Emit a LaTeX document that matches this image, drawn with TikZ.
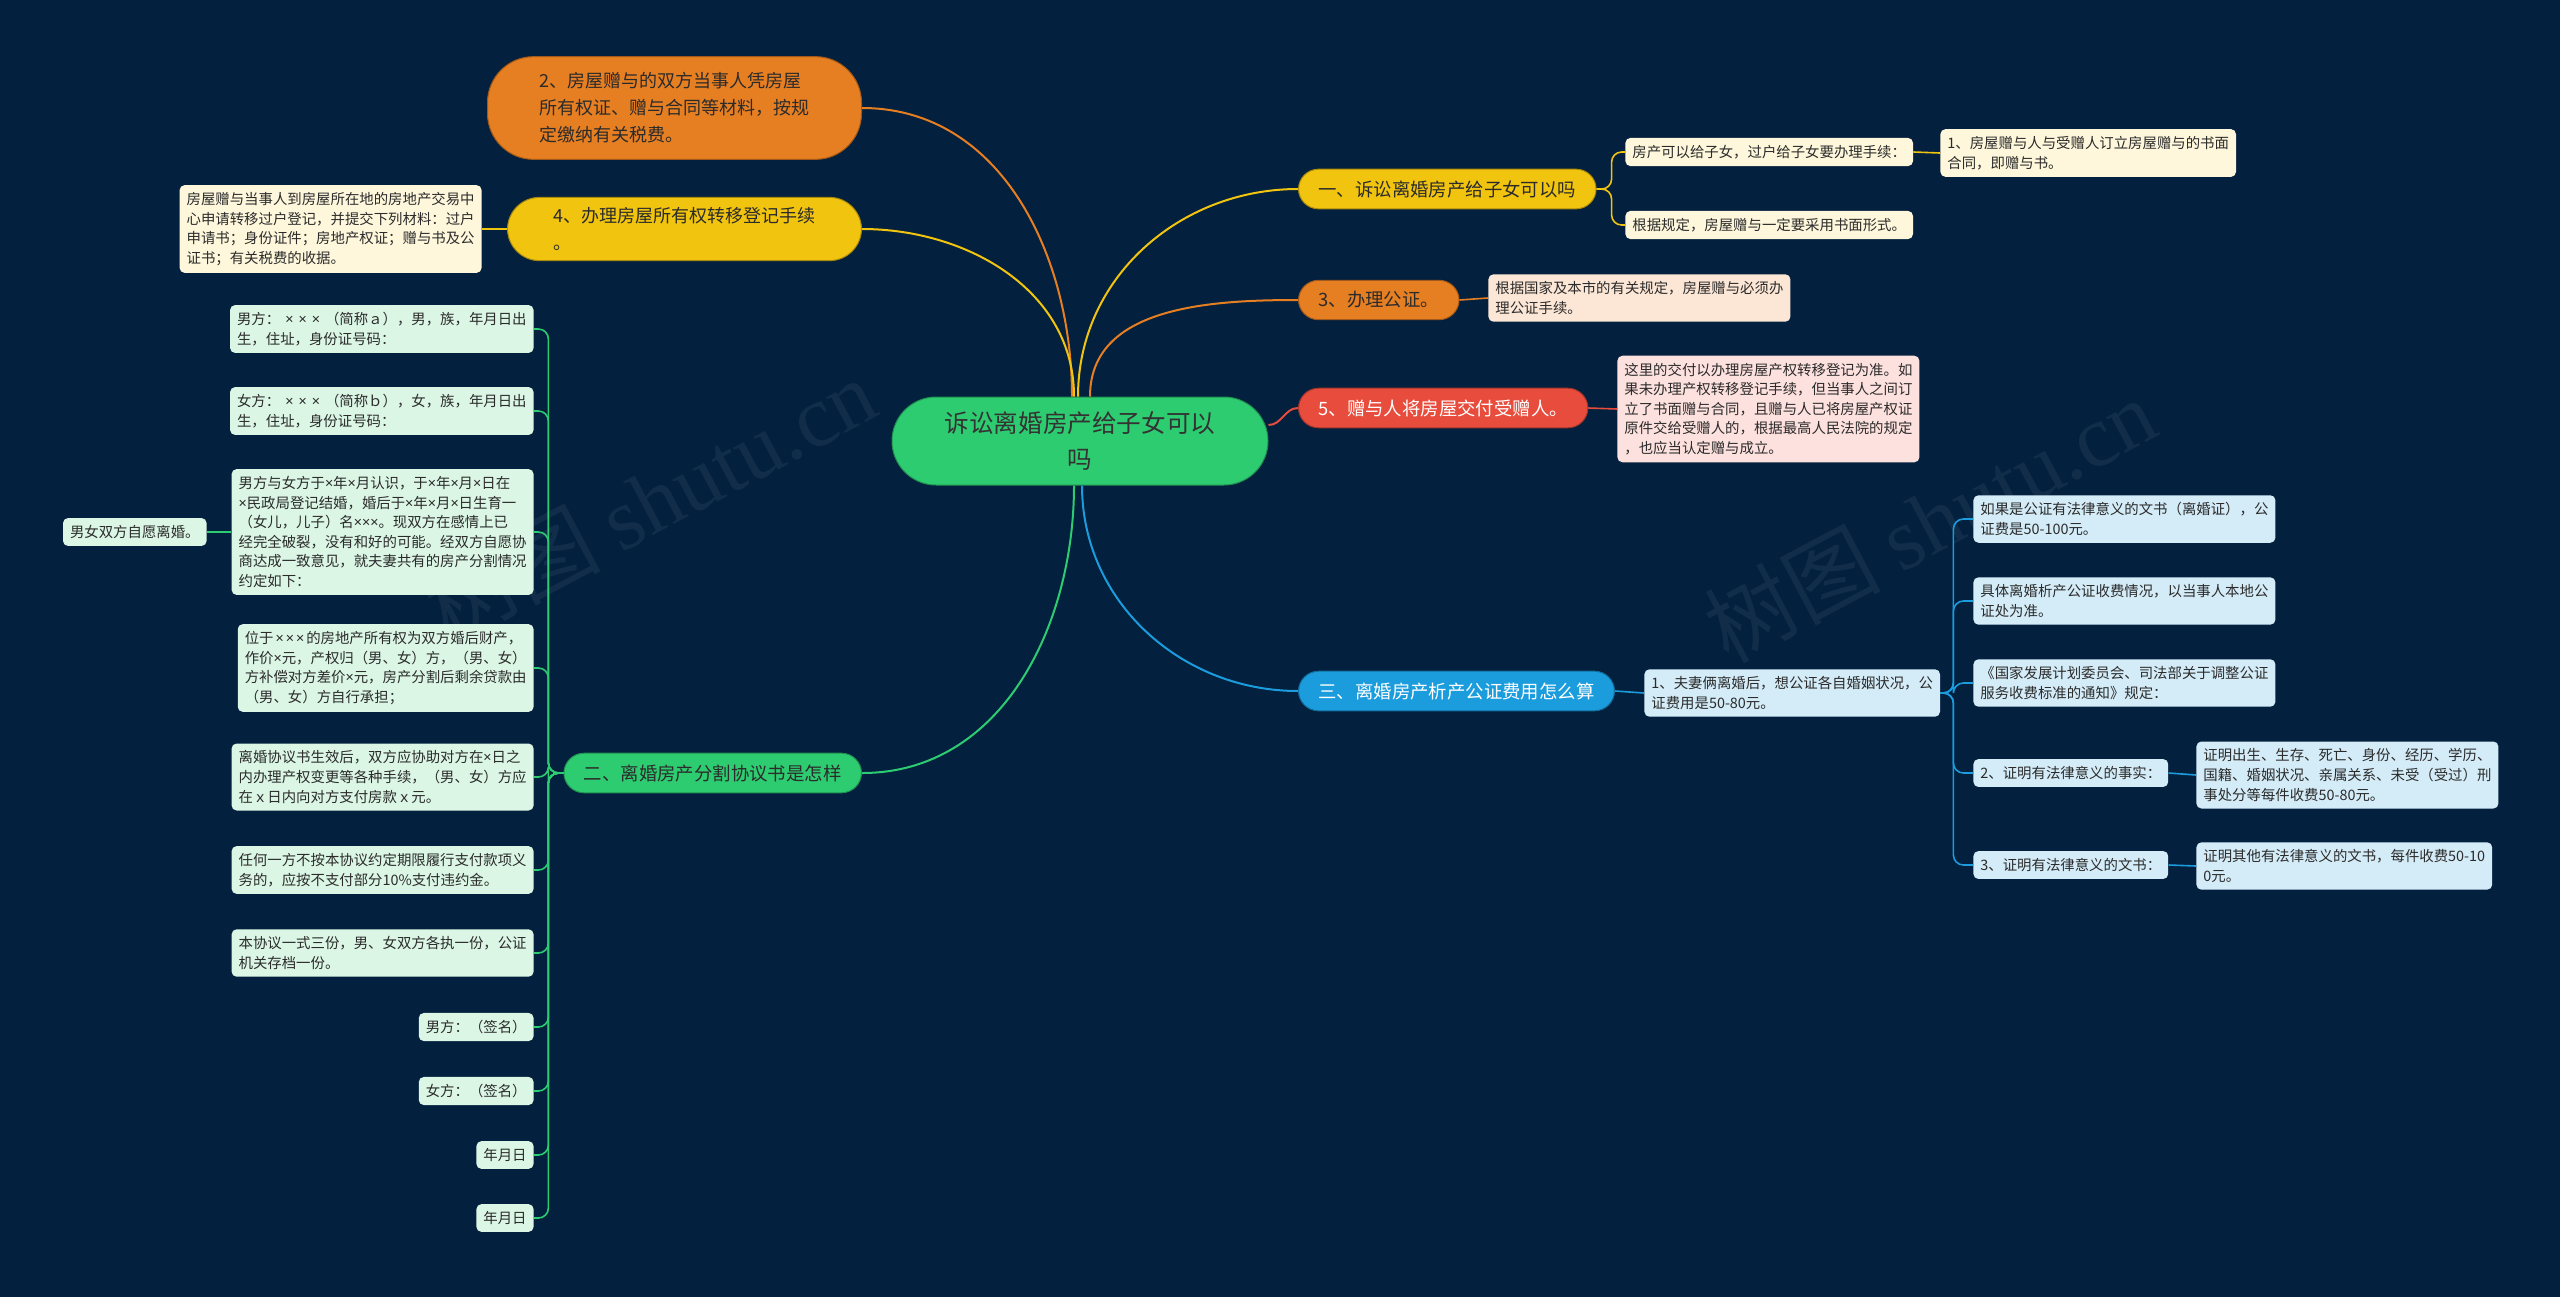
\documentclass[tikz,border=0pt]{standalone}
\usepackage{fontspec}
\setmainfont{Noto Sans CJK SC}
\newfontfamily\lsans{Noto Sans}
\newfontfamily\lserif{Liberation Serif}
\newcommand{\xx}{{\lsans ×}}
\newcommand{\xxx}[1]{\hspace{#1}\xx\hspace{#1}\xx\hspace{#1}\xx\hspace{#1}}
\usetikzlibrary{positioning}

\definecolor{bg}{HTML}{03203E}
\definecolor{cgreen}{HTML}{2ECC71}
\definecolor{cyellow}{HTML}{F1C40F}
\definecolor{corange}{HTML}{E67E22}
\definecolor{cred}{HTML}{E74C3C}
\definecolor{cblue}{HTML}{1A9CDD}
\definecolor{lyellow}{HTML}{FEF7DC}
\definecolor{lorange}{HTML}{FCE6D6}
\definecolor{lred}{HTML}{FDE1DE}
\definecolor{lblue}{HTML}{D4ECF8}
\definecolor{lgreen}{HTML}{DBF6E5}
\definecolor{ink}{HTML}{2B2B2B}

\begin{document}
\begin{tikzpicture}[x=0.5pt, y=-0.5pt,
  every node/.style={font=\fontsize{7.2}{9.8}\selectfont, text=ink},
  root/.style={fill=cgreen, draw=cgreen!70!black, line width=0.5pt, rounded corners=22pt,
    minimum width=188pt, minimum height=44pt, align=center, text=black!80,
    font=\fontsize{12.3}{18}\selectfont},
  branch/.style={rounded corners=10pt, inner xsep=10pt, inner ysep=5.6pt, line width=0.5pt,
    align=left, font=\fontsize{9.2}{13.5}\selectfont},
  bigbranch/.style={branch, rounded corners=16pt, inner xsep=22pt, inner ysep=5pt,
    font=\fontsize{9}{13.5}\selectfont},
  leaf/.style={rounded corners=2.5pt, inner xsep=3.5pt, inner ysep=3.6pt, align=left},
  link/.style={line width=1pt},
  sublink/.style={line width=0.8pt, rounded corners=5pt},
  wmark/.style={font=\fontsize{44}{44}\selectfont, text=white, opacity=0.06, rotate=28}]

\fill[bg] (0,0) rectangle (2560,1297);
\useasboundingbox (0,0) rectangle (2560,1297);

% watermarks
\node[wmark] (wm1) at (650,500) {树图 {\lserif shutu.cn}};
\node[wmark] (wm2) at (1930,520) {树图 {\lserif shutu.cn}};

% centre
\node[root] (root) at (1080,441) {诉讼离婚房产给子女可以\\吗};

% right: branch one
\node[branch, fill=cyellow, draw=cyellow!70!black, anchor=west] (b1) at (1298,189) {一、诉讼离婚房产给子女可以吗};
\node[leaf, fill=lyellow, anchor=west] (b1a) at (1625,152) {房产可以给子女，过户给子女要办理手续：};
\node[leaf, fill=lyellow, anchor=west] (b1a1) at (1940,153) {1、房屋赠与人与受赠人订立房屋赠与的书面\\合同，即赠与书。};
\node[leaf, fill=lyellow, anchor=west] (b1b) at (1625,225) {根据规定，房屋赠与一定要采用书面形式。};

% right: notary
\node[branch, fill=corange, draw=corange!70!black, anchor=west] (b2) at (1298,300) {3、办理公证。};
\node[leaf, fill=lorange, anchor=west] (b2a) at (1488,298) {根据国家及本市的有关规定，房屋赠与必须办\\理公证手续。};

% right: delivery
\node[branch, fill=cred, draw=cred!70!black, text=white, anchor=west] (b3) at (1298,408) {5、赠与人将房屋交付受赠人。};
\node[leaf, fill=lred, anchor=west] (b3a) at (1617,409) {这里的交付以办理房屋产权转移登记为准。如\\果未办理产权转移登记手续，但当事人之间订\\立了书面赠与合同，且赠与人已将房屋产权证\\原件交给受赠人的，根据最高人民法院的规定\\，也应当认定赠与成立。};

% right: fees
\node[branch, fill=cblue, draw=cblue!70!black, text=white, anchor=west] (b4) at (1298,691) {三、离婚房产析产公证费用怎么算};
\node[leaf, fill=lblue, anchor=west] (b4a) at (1644,693) {1、夫妻俩离婚后，想公证各自婚姻状况，公\\证费用是50-80元。};
\node[leaf, fill=lblue, anchor=west] (b4a1) at (1973,519) {如果是公证有法律意义的文书（离婚证），公\\证费是50-100元。};
\node[leaf, fill=lblue, anchor=west] (b4a2) at (1973,601) {具体离婚析产公证收费情况，以当事人本地公\\证处为准。};
\node[leaf, fill=lblue, anchor=west] (b4a3) at (1973,683) {《国家发展计划委员会、司法部关于调整公证\\服务收费标准的通知》规定：};
\node[leaf, fill=lblue, anchor=west] (b4a4) at (1973,773) {2、证明有法律意义的事实：};
\node[leaf, fill=lblue, anchor=west] (b4a5) at (1973,865) {3、证明有法律意义的文书：};
\node[leaf, fill=lblue, anchor=west] (b4a4a) at (2196,775) {证明出生、生存、死亡、身份、经历、学历、\\国籍、婚姻状况、亲属关系、未受（受过）刑\\事处分等每件收费50-80元。};
\node[leaf, fill=lblue, anchor=west] (b4a5a) at (2196,866) {证明其他有法律意义的文书，每件收费50-10\\0元。};

% left: taxes and transfer
\node[bigbranch, fill=corange, draw=corange!70!black, rounded corners=23pt, inner xsep=26pt, inner ysep=8pt, anchor=east] (l1) at (862,108) {2、房屋赠与的双方当事人凭房屋\\所有权证、赠与合同等材料，按规\\定缴纳有关税费。};
\node[bigbranch, fill=cyellow, draw=cyellow!70!black, inner xsep=23pt, anchor=east] (l2) at (862,229) {4、办理房屋所有权转移登记手续\\。};
\node[leaf, fill=lyellow, anchor=east] (l2a) at (482,229) {房屋赠与当事人到房屋所在地的房地产交易中\\心申请转移过户登记，并提交下列材料：过户\\申请书；身份证件；房地产权证；赠与书及公\\证书；有关税费的收据。};

% left: agreement
\node[branch, fill=cgreen, draw=cgreen!70!black, anchor=east] (l3) at (862,773) {二、离婚房产分割协议书是怎样};
\node[leaf, fill=lgreen, anchor=east] (l3a) at (534,329) {男方：\xxx{2.5pt}（简称ａ），男，族，年月日出\\生，住址，身份证号码：};
\node[leaf, fill=lgreen, anchor=east] (l3b) at (534,411) {女方：\xxx{2.5pt}（简称ｂ），女，族，年月日出\\生，住址，身份证号码：};
\node[leaf, fill=lgreen, anchor=east] (l3c) at (534,532) {男方与女方于\xx 年\xx 月认识，于\xx 年\xx 月\xx 日在\\\xx 民政局登记结婚，婚后于\xx 年\xx 月\xx 日生育一\\（女儿，儿子）名\xx\xx\xx。现双方在感情上已\\经完全破裂，没有和好的可能。经双方自愿协\\商达成一致意见，就夫妻共有的房产分割情况\\约定如下：};
\node[leaf, fill=lgreen, anchor=east] (l3cx) at (207,532) {男女双方自愿离婚。};
\node[leaf, fill=lgreen, anchor=east] (l3d) at (534,668) {位于\xxx{1pt}的房地产所有权为双方婚后财产，\\作价\xx 元，产权归（男、女）方，（男、女）\\方补偿对方差价\xx 元，房产分割后剩余贷款由\\（男、女）方自行承担；};
\node[leaf, fill=lgreen, anchor=east] (l3e) at (534,777) {离婚协议书生效后，双方应协助对方在\xx 日之\\内办理产权变更等各种手续，（男、女）方应\\在ｘ日内向对方支付房款ｘ元。};
\node[leaf, fill=lgreen, anchor=east] (l3f) at (534,870) {任何一方不按本协议约定期限履行支付款项义\\务的，应按不支付部分10\%支付违约金。};
\node[leaf, fill=lgreen, anchor=east] (l3g) at (534,953) {本协议一式三份，男、女双方各执一份，公证\\机关存档一份。};
\node[leaf, fill=lgreen, anchor=east] (l3h) at (534,1027) {男方：（签名）};
\node[leaf, fill=lgreen, anchor=east] (l3i) at (534,1091) {女方：（签名）};
\node[leaf, fill=lgreen, anchor=east] (l3j) at (534,1155) {年月日};
\node[leaf, fill=lgreen, anchor=east] (l3k) at (534,1218) {年月日};

% centre to branches
\draw[link, cyellow] ([xshift=-1pt]root.north) to[out=90, in=180] (b1.west);
\draw[link, corange] ([xshift=5pt]root.north) to[out=90, in=180] (b2.west);
\draw[link, cred] ([yshift=8pt]root.east) to[out=0, in=180] (b3.west);
\draw[link, cblue] ([xshift=1pt]root.south) to[out=-90, in=180] (b4.west);
\draw[link, corange] ([xshift=-4pt]root.north) to[out=90, in=0] (l1.east);
\draw[link, cyellow] ([xshift=-3pt]root.north) to[out=90, in=0] (l2.east);
\draw[link, cgreen] ([xshift=-3pt]root.south) to[out=-90, in=0] (l3.east);

% branches to leaves
\foreach \n in {b1a,b1b}
  \draw[sublink, cyellow] (b1.east) -- ++(15,0) |- (\n.west);
\draw[sublink, cyellow] (b1a.east) -- (b1a1.west);
\draw[sublink, corange] (b2.east) -- (b2a.west);
\draw[sublink, cred] (b3.east) -- (b3a.west);
\draw[sublink, cblue] (b4.east) -- (b4a.west);
\foreach \n in {1,...,5}
  \draw[sublink, cblue] (b4a.east) -- ++(13,0) |- (b4a\n.west);
\draw[sublink, cblue] (b4a4.east) -- (b4a4a.west);
\draw[sublink, cblue] (b4a5.east) -- (b4a5a.west);
\draw[sublink, cyellow] (l2.west) -- (l2a.east);
\foreach \n in {a,b,c,d,e,f,g,h,i,j,k}
  \draw[sublink, cgreen] (l3.west) -- ++(-15,0) |- (l3\n.east);
\draw[sublink, cgreen] (l3c.west) -- (l3cx.east);
\end{tikzpicture}
\end{document}
